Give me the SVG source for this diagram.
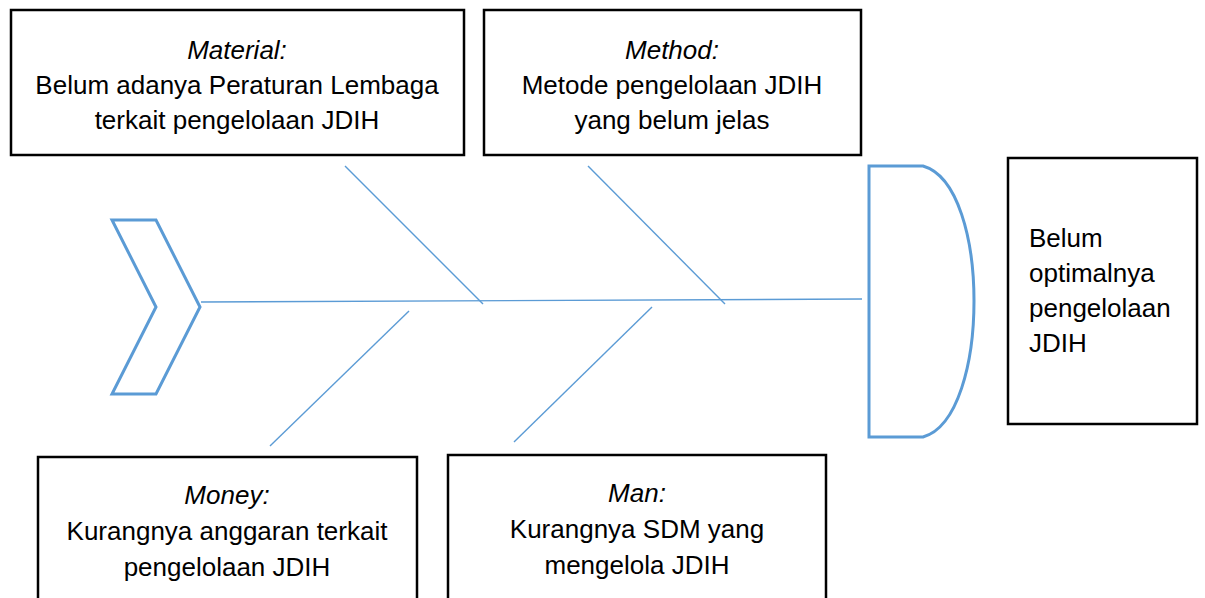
<svg xmlns="http://www.w3.org/2000/svg" width="1205" height="598" viewBox="0 0 1205 598">
<style>
.box{fill:#fff;stroke:#000;stroke-width:2.5}
.t{font-family:"Liberation Sans",Arial,sans-serif;font-size:26px;fill:#000;text-anchor:middle}
.i{font-style:italic}
.bone{stroke:#5B9BD5;stroke-width:1.4;fill:none}
.shape{stroke:#5B9BD5;stroke-width:3;fill:#fff}
</style>
<rect width="1205" height="598" fill="#fff"/>
<g id="connectors">
<line class="bone" x1="201" y1="302" x2="862" y2="299"/>
<line class="bone" x1="345" y1="166" x2="483" y2="304"/>
<line class="bone" x1="588" y1="166" x2="725" y2="304"/>
<line class="bone" x1="409" y1="311" x2="270" y2="446"/>
<line class="bone" x1="652" y1="307" x2="514" y2="442"/>
</g>
<g id="tail">
<polygon class="shape" points="112,220 156,220 200,307 156,394 112,394 156,307"/>
</g>
<g id="head">
<path class="shape" d="M869,166 L923,166 C958,176 974,240 974,301 C974,362 958,427 923,437 L869,437 Z"/>
</g>
<g id="material">
<rect class="box" x="11" y="10" width="453" height="145"/>
<text class="t" x="237" y="59"><tspan class="i">Material:</tspan><tspan x="237" y="94">Belum adanya Peraturan Lembaga</tspan><tspan x="237" y="129">terkait pengelolaan JDIH</tspan></text>
</g>
<g id="method">
<rect class="box" x="484" y="10" width="377" height="145"/>
<text class="t" x="672" y="59"><tspan class="i">Method:</tspan><tspan x="672" y="94">Metode pengelolaan JDIH</tspan><tspan x="672" y="129">yang belum jelas</tspan></text>
</g>
<g id="effect">
<rect class="box" x="1008" y="158" width="189" height="266"/>
<text class="t" style="text-anchor:start" x="1029" y="247">Belum<tspan x="1029" y="282">optimalnya</tspan><tspan x="1029" y="317">pengelolaan</tspan><tspan x="1029" y="352">JDIH</tspan></text>
</g>
<g id="money">
<rect class="box" x="38" y="457" width="379" height="160"/>
<text class="t" x="227" y="504"><tspan class="i">Money:</tspan><tspan x="227" y="540">Kurangnya anggaran terkait</tspan><tspan x="227" y="576">pengelolaan JDIH</tspan></text>
</g>
<g id="man">
<rect class="box" x="448" y="455" width="378" height="160"/>
<text class="t" x="637" y="502"><tspan class="i">Man:</tspan><tspan x="637" y="538">Kurangnya SDM yang</tspan><tspan x="637" y="574">mengelola JDIH</tspan></text>
</g>
</svg>
